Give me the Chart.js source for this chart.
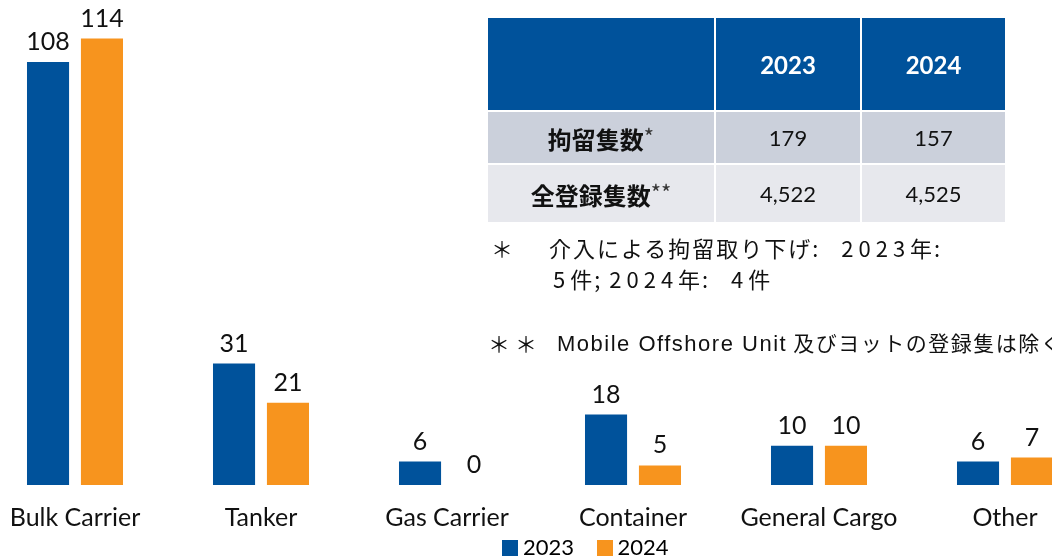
<!DOCTYPE html>
<html>
<head>
<meta charset="utf-8">
<script src="https://cdn.jsdelivr.net/npm/chart.js@4"></script>
<style>
  html, body { margin: 0; padding: 0; background: #fff; }
  body { width: 1052px; height: 556px; position: relative; overflow: hidden; font-family: Lato, "Noto Sans CJK JP", sans-serif; }
  #wrap { position: absolute; left: -18px; top: 0; width: 1116px; height: 556px; }
  table { position: absolute; left: 488px; top: 18px; border-collapse: separate; border-spacing: 2px 0; margin-left: -2px; }
  td { text-align: center; padding: 0; font-size: 22px; color: #111; }
  .hd td { background: #00529b; color: #fff; font-weight: bold; font-size: 24px; height: 92px; }
  .r1 td { background: #cbd0db; height: 51px; }
  .r2 td { background: #e7e8ed; height: 57px; }
  .r1 td, .r2 td { border-top: 2px solid #fff; }
  .jp { font-family: "Noto Sans CJK JP", sans-serif; font-weight: bold; font-size: 24px; }
  .jp small { font-weight: normal; font-size: 22px; vertical-align: 4px; color: #333; }
  .note { position: absolute; font-family: "Noto Sans CJK JP", sans-serif; font-size: 22px; line-height: 22px; color: #111; white-space: nowrap; letter-spacing: 2px; }
  .note .d { letter-spacing: 5px; }
  .note .en { font-family: "Liberation Sans", Arial, sans-serif; font-size: 22px; letter-spacing: 1.5px; }
  #legend { position: absolute; top: 533px; left: 502px; font-size: 22px; white-space: nowrap; }
  #legend span.box { display: inline-block; width: 16px; height: 16px; margin-right: 5px; vertical-align: -1px; }
</style>
</head>
<body>
<div id="wrap"><canvas id="c"></canvas></div>

<table>
  <tr class="hd"><td style="width:226px"></td><td style="width:144px">2023</td><td style="width:143px">2024</td></tr>
  <tr class="r1"><td class="jp">拘留隻数<small>*</small></td><td>179</td><td>157</td></tr>
  <tr class="r2"><td class="jp">全登録隻数<small>**</small></td><td>4,522</td><td>4,525</td></tr>
</table>

<div class="note" style="left:491px; top:236px;">＊</div>
<div class="note" style="left:549px; top:236px;">介入による拘留取り下げ:&nbsp;&nbsp;&nbsp;<span class="d">2023</span>年:</div>
<div class="note" style="left:553px; top:267px;"><span class="d">5</span>件;&nbsp;<span class="d">2024</span>年:&nbsp;&nbsp;&nbsp;<span class="d">4</span>件</div>
<div class="note" style="left:488px; top:331px; letter-spacing:0;">＊ ＊</div>
<div class="note" style="left:557px; top:331px; font-size:21px; letter-spacing:1.5px;"><span class="en">Mobile Offshore Unit</span> 及びヨットの登録隻は除く</div>

<div id="legend"><span class="box" style="background:#00529b"></span>2023&nbsp;&nbsp;&nbsp;&nbsp;<span class="box" style="background:#f7941e"></span>2024</div>

<script>
const categories = ['Bulk Carrier', 'Tanker', 'Gas Carrier', 'Container', 'General Cargo', 'Other'];
const values2023 = [108, 31, 6, 18, 10, 6];
const values2024 = [114, 21, 0, 5, 10, 7];

// value above every bar
const valueLabels = {
  id: 'valueLabels',
  afterDatasetsDraw(chart) {
    const ctx = chart.ctx;
    ctx.save();
    ctx.font = '25px Lato';
    ctx.fillStyle = '#111';
    ctx.textAlign = 'center';
    ctx.textBaseline = 'alphabetic';
    chart.data.datasets.forEach((ds, i) => {
      chart.getDatasetMeta(i).data.forEach((bar, j) => {
        ctx.fillText(ds.data[j], bar.x, bar.y - 12);
      });
    });
    ctx.restore();
  }
};

new Chart(document.getElementById('c'), {
  type: 'bar',
  data: {
    labels: categories,
    datasets: [
      { label: '2023', data: values2023, backgroundColor: '#00529b' },
      { label: '2024', data: values2024, backgroundColor: '#f7941e' }
    ]
  },
  options: {
    responsive: true,
    maintainAspectRatio: false,
    animation: false,
    categoryPercentage: 0.58,
    barPercentage: 0.78,
    layout: { padding: { top: 15, bottom: 21, left: 0, right: 0 } },
    plugins: { legend: { display: false }, tooltip: { enabled: false } },
    scales: {
      y: { display: false, min: 0, max: 120 },
      x: {
        grid: { display: false },
        border: { display: false },
        ticks: { color: '#111', font: { family: 'Lato', size: 25 }, padding: 10 },
        afterFit(scale) { scale.height = 50; }
      }
    }
  },
  plugins: [valueLabels]
});
</script>
</body>
</html>
